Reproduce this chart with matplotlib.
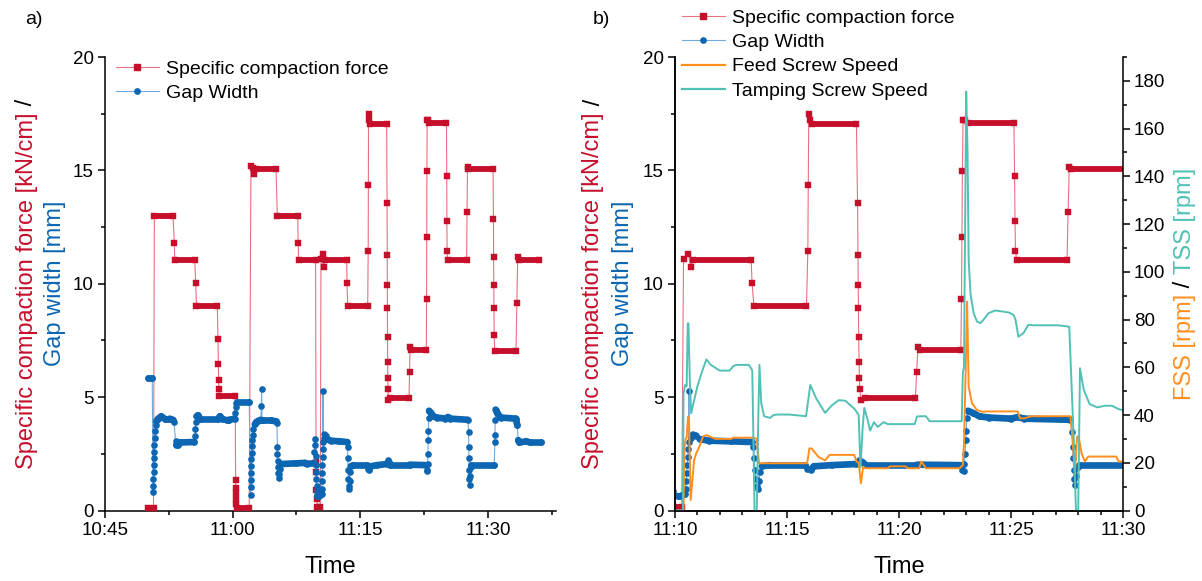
import numpy as np
import matplotlib
matplotlib.use("Agg")
import matplotlib.pyplot as plt
from matplotlib.lines import Line2D
from matplotlib.ticker import MultipleLocator

plt.rcParams['font.family'] = ['Liberation Sans', 'DejaVu Sans']

RED = '#c50f2b'
RED_THIN = '#e8707f'
BLUE = '#0d66b2'
BLUE_THIN = '#72a9dd'
ORANGE = '#ff8f1f'
TEAL = '#52c1b5'

W, H = 1202, 581
SQ = 4.2    # square marker (pt)
DOT = 4.8   # circle marker (pt)

# time in minutes after 10:00
force_t = [50.1, 50.7,
           50.8, 53.0,
           53.14,
           53.2, 55.55,
           55.65,
           55.75, 58.2,
           58.28, 58.32, 58.36, 58.4,
           58.45, 60.3,
           60.35, 60.37, 60.39, 60.41, 60.43,
           60.5, 61.95,
           62.15, 62.35, 62.55, 62.7, 65.1,
           65.25, 67.65,
           67.7,
           67.75, 69.75,
           69.8, 69.82, 69.85, 69.88,
           69.95, 70.3,
           70.38, 70.6, 70.7, 70.8, 73.4,
           73.44,
           73.52, 75.87,
           75.93, 75.95, 75.97, 76.02, 76.1, 78.1,
           78.15, 78.17, 78.18, 78.19, 78.2, 78.22, 78.23, 78.25,
           78.3, 78.5, 80.73,
           80.79,
           80.85, 80.95, 82.76,
           82.79, 82.81, 82.83, 82.86, 82.96, 83.1, 85.13,
           85.16, 85.18, 85.2,
           85.25, 87.5,
           87.55, 87.6, 87.7, 90.6,
           90.65, 90.67, 90.69, 90.71, 90.73,
           90.8, 93.3,
           93.4, 93.5, 93.65, 96.0]
force_v = [0.12, 0.12,
           13.0, 13.0,
           11.8,
           11.05, 11.05,
           10.05,
           9.04, 9.04,
           7.55, 6.45, 5.75, 5.35,
           5.05, 5.05,
           1.35, 1.0, 0.75, 0.5, 0.3,
           0.12, 0.12,
           15.2, 15.1, 14.85, 15.05, 15.05,
           13.0, 13.0,
           11.8,
           11.05, 11.05,
           2.15, 1.7, 0.9, 0.5,
           0.15, 0.15,
           11.1, 11.3, 10.75, 11.05, 11.05,
           10.05,
           9.04, 9.04,
           11.46, 14.37, 17.49, 17.2, 17.05, 17.05,
           13.56, 11.25, 9.96, 8.93, 7.65, 6.54, 5.84, 5.35,
           4.88, 4.98, 4.98,
           6.13,
           7.2, 7.06, 7.06,
           9.34, 12.06, 14.96, 17.24, 17.2, 17.09, 17.09,
           14.77, 12.75, 11.46,
           11.06, 11.06,
           13.18, 15.17, 15.06, 15.06,
           12.87, 11.16, 9.96, 8.94, 7.75,
           7.04, 7.04,
           9.15, 11.2, 11.05, 11.05]

gap_t = [50.1, 50.55,
         50.65, 50.67, 50.69, 50.71, 50.73, 50.75, 50.78, 50.81, 50.85, 50.9, 50.97, 51.05,
         51.25, 51.6, 52.0, 52.6, 53.0, 53.1,
         53.3, 53.4, 53.6, 53.8, 55.5,
         55.6, 55.62, 55.65, 55.75, 55.9, 56.2, 58.3, 58.5, 58.7, 59.4, 59.6, 60.25,
         60.3, 60.35, 60.45, 60.55, 61.95,
         62.1, 62.12, 62.14, 62.16, 62.18, 62.2, 62.23, 62.26, 62.3, 62.35, 62.45, 62.6, 62.8, 63.0, 63.3,
         63.38, 63.4, 63.45,
         63.6, 64.5, 65.1, 65.2,
         65.25, 65.27, 65.3, 65.33, 65.37, 65.42, 65.5, 65.55, 65.65, 67.5, 68.5, 68.7, 69.55,
         69.6, 69.65, 69.7, 69.75, 69.78, 69.8, 69.83, 69.86, 69.9, 69.95, 70.2, 70.45,
         70.48, 70.5, 70.52, 70.55, 70.57, 70.6, 70.62, 70.64, 70.7, 70.8, 70.95, 71.1, 71.5, 72.5, 73.45,
         73.5, 73.53, 73.56, 73.6, 73.65, 73.7, 73.75, 73.8, 73.88, 74.2, 75.8, 75.9, 76.05, 76.2,
         77.0, 78.1, 78.2, 78.35, 78.5, 80.8, 82.75,
         82.8, 82.88, 82.92, 82.95, 82.98, 83.0, 83.03, 83.08, 83.3, 83.6, 84.0, 85.0, 85.3, 85.6, 87.65,
         87.72, 87.75, 87.77, 87.8, 87.83, 87.86, 87.92, 87.97, 88.05, 90.75,
         90.8, 90.83, 90.86, 90.9, 91.1, 91.5, 93.3,
         93.45, 93.55, 93.7, 94.5, 95.0, 96.2]
gap_v = [5.84, 5.84,
         0.83, 1.1, 1.4, 1.7, 2.0, 2.3, 2.6, 2.9, 3.2, 3.5, 3.75, 3.95,
         4.05, 4.15, 4.05, 4.05, 4.0, 3.9,
         3.05, 2.9, 2.88, 3.0, 3.02,
         3.3, 3.6, 3.9, 4.15, 4.2, 4.05, 4.05, 4.15, 4.05, 3.97, 4.0, 4.05,
         4.3, 4.55, 4.75, 4.78, 4.78,
         0.68, 1.05, 1.35, 1.65, 1.95, 2.25, 2.55, 2.85, 3.1, 3.35, 3.6, 3.8, 3.9, 3.95, 4.0,
         4.6, 5.35, 4.0,
         3.97, 3.97, 3.93, 3.85,
         2.8, 2.5, 2.2, 1.9, 1.65, 1.45, 1.6, 1.85, 2.05, 2.08, 2.1, 2.06, 2.08,
         2.6, 3.15, 2.9, 2.4, 2.0, 1.7, 1.4, 1.1, 0.85, 0.65, 0.62, 0.72,
         0.95, 1.3, 1.65, 2.0, 2.35, 2.7, 5.28, 3.0, 3.2, 3.35, 3.3, 3.15, 3.08, 3.05, 3.02,
         2.8, 2.3, 1.8, 1.4, 1.1, 0.95, 1.3, 1.7, 1.95, 2.0, 2.0, 1.82, 1.8, 1.95,
         2.0, 2.05, 2.22, 2.15, 2.02, 2.02, 2.0,
         1.8, 1.75, 2.05, 2.5, 3.1, 3.5, 4.1, 4.4, 4.3, 4.15, 4.1, 4.05, 4.12, 4.05, 4.0,
         3.48, 2.8, 2.3, 1.8, 1.4, 1.13, 1.5, 1.9, 2.0, 2.0,
         3.0, 3.35, 4.0, 4.45, 4.3, 4.1, 4.05,
         3.75, 3.1, 3.0, 3.05, 3.0, 3.0]

fss_t = [70.0, 70.38, 70.42, 70.47, 70.52, 70.58, 70.62, 70.7, 70.78, 70.85, 70.95, 71.1,
         71.25, 71.4, 71.8, 72.5, 72.6, 73.5, 73.65, 73.75, 75.9, 76.0, 76.1, 76.4, 76.7,
         76.9, 78.0, 78.1, 78.2, 78.3, 78.4, 78.5, 79.5, 79.6, 80.3, 80.4, 80.9, 81.0, 81.2,
         82.7, 82.85, 82.9, 82.98, 83.04, 83.11, 83.26, 83.48, 83.7, 84.0, 85.3, 85.4, 85.6,
         85.9, 87.65, 87.75, 87.85, 87.95, 88.02, 88.15, 88.3, 88.45, 89.7, 89.8, 90.0]
fss_v = [0, 0, 26, 30, 30.5, 39.3, 39.3, 4.4, 13, 21, 24, 27,
         31, 31.6, 30, 30, 30.5, 30.5, 30, 19.8, 19.8, 26, 26, 22.5, 21,
         23.3, 23.3, 20.5, 20, 11.4, 18.4, 17.7, 17.7, 18.5, 18.5, 17.7, 17.7, 20.5, 17.7,
         17.7, 19, 28, 60, 87.5, 51.9, 44.9, 42.1, 41.4, 41.5, 41.5, 38.6, 38.6,
         39.5, 39.5, 30, 15, 31, 31, 24, 20.5, 22.6, 22.6, 20.5, 20.5]

tss_t = [70.0, 70.35, 70.38, 70.45, 70.52, 70.57, 70.6, 70.66, 70.72, 70.8, 71.0, 71.2,
         71.4, 71.6, 72.0, 72.44, 72.6, 72.74, 73.3, 73.4, 73.45, 73.5, 73.55, 73.65,
         73.72, 73.77, 73.85, 73.98, 74.24, 74.4, 74.58, 75.1, 75.85, 76.04, 76.3, 76.7,
         77.0, 77.3, 77.6, 78.02, 78.2, 78.28, 78.38, 78.45, 78.6, 78.71, 78.88, 79.05,
         79.31, 79.5, 80.7, 80.8, 81.05, 81.2, 81.37, 82.8, 82.85, 82.9, 83.0, 83.06,
         83.11, 83.19, 83.33, 83.48, 83.63, 83.78, 84.0, 84.3, 84.89, 85.11, 85.2, 85.33,
         85.55, 85.78, 86.0, 87.1, 87.6, 87.8, 87.9, 88.0, 88.08, 88.25, 88.51, 88.85,
         89.2, 89.5, 89.8, 90.0]
tss_v = [0, 0, 49, 52.6, 52, 78.4, 78.4, 55, 40.7, 44, 52, 58,
         63.3, 61, 58.6, 58.6, 60.5, 61, 61, 59.5, 58.6, 30, 0, 0,
         40, 61, 45, 39.5, 38.8, 40, 40.2, 40.2, 39.5, 52.6, 47, 40.9,
         44, 46.2, 46, 42.5, 40, 18, 35, 43, 38, 33.5, 37, 35,
         37, 36.2, 36.2, 39.4, 39.5, 39.5, 37.4, 37.4, 57.6, 60, 175.5, 150,
         105, 91, 82.7, 79.2, 78.5, 80, 82.7, 83.8, 83, 82, 80, 72.8,
         74.3, 77.8, 77.6, 77.6, 77, 30, 0, 0, 59.6, 50.5, 44.6, 43.2,
         43.9, 43.9, 42.5, 42]

left_ticks = [45, 60, 75, 90]
left_labels = ['10:45', '11:00', '11:15', '11:30']
right_ticks = [70, 75, 80, 85, 90]
right_labels = ['11:10', '11:15', '11:20', '11:25', '11:30']


def draw_force(ax):
    t = np.array(force_t)
    v = np.array(force_v)
    ax.plot(t, v, color=RED_THIN, lw=0.8, zorder=2)
    for i in range(len(t) - 1):
        if v[i] == v[i + 1] and t[i + 1] - t[i] > 0.3:
            ax.plot(t[i:i + 2], v[i:i + 2], color=RED, lw=SQ,
                    solid_capstyle='projecting', zorder=3)
    ax.plot(t, v, ls='none', marker='s', ms=SQ, mfc=RED, mec=RED, mew=0.3, zorder=3)


def draw_gap(ax):
    t = np.array(gap_t)
    v = np.array(gap_v)
    ax.plot(t, v, color=BLUE_THIN, lw=0.8, zorder=3)
    slow = (np.diff(t) > 0.15) & (np.abs(np.diff(v)) < 0.5)
    for i in np.where(slow)[0]:
        ax.plot(t[i:i + 2], v[i:i + 2], color=BLUE, lw=DOT,
                solid_capstyle='round', zorder=3)
    ax.plot(t, v, ls='none', marker='o', ms=DOT, mfc=BLUE, mec=BLUE, mew=0, zorder=3)


def style(ax):
    ax.tick_params(which='major', direction='out', length=5, width=1.1, labelsize=13.5, pad=3)
    ax.tick_params(which='minor', direction='out', length=3, width=1.1)
    for s in ax.spines.values():
        s.set_linewidth(1.1)


def vlabel(fig, cx, cy, pieces, size):
    # multi-coloured vertical label, centred on pixel (cx, cy) counted from top-left
    r = fig.canvas.get_renderer()

    def width(s):
        a = fig.text(0, 0, s + '|', fontsize=size)
        b = fig.text(0, 0, '|', fontsize=size)
        w = a.get_window_extent(r).width - b.get_window_extent(r).width
        a.remove()
        b.remove()
        return w

    total = width(''.join(p for p, c in pieces))
    y0 = (H - cy) - total / 2
    xb = cx + 0.36 * size * 100 / 72
    done = ''
    for s, c in pieces:
        off = width(done) if done else 0
        fig.text(xb / W, (y0 + off) / H, s, color=c, fontsize=size, rotation=90,
                 rotation_mode='anchor', ha='left', va='baseline')
        done += s


fig = plt.figure(figsize=(W / 100, H / 100), dpi=100)
axl = fig.add_axes([105 / W, 70.5 / H, 451 / W, 453.5 / H])
axr = fig.add_axes([675 / W, 70.5 / H, 448 / W, 453.5 / H])
axr2 = axr.twinx()

# panel a
draw_force(axl)
draw_gap(axl)
axl.set_xlim(45, 98)
axl.set_ylim(0, 20)
axl.set_xticks(left_ticks)
axl.set_xticklabels(left_labels)
axl.xaxis.set_minor_locator(MultipleLocator(7.5))
axl.yaxis.set_major_locator(MultipleLocator(5))
axl.yaxis.set_minor_locator(MultipleLocator(2.5))
axl.spines['top'].set_visible(False)
axl.spines['right'].set_visible(False)
style(axl)

# panel b
draw_force(axr)
draw_gap(axr)
axr2.plot(fss_t, fss_v, color=ORANGE, lw=1.4)
axr2.plot(tss_t, tss_v, color=TEAL, lw=1.4)
axr.set_xlim(70, 90)
axr.set_ylim(0, 20)
axr2.set_ylim(0, 190)
axr.set_xticks(right_ticks)
axr.set_xticklabels(right_labels)
axr.xaxis.set_minor_locator(MultipleLocator(1))
axr.yaxis.set_major_locator(MultipleLocator(5))
axr.yaxis.set_minor_locator(MultipleLocator(2.5))
axr2.yaxis.set_major_locator(MultipleLocator(20))
axr2.yaxis.set_minor_locator(MultipleLocator(10))
for a in (axr, axr2):
    a.spines['top'].set_visible(False)
axr.spines['right'].set_visible(False)
style(axr)
style(axr2)

for ax in (axl, axr):
    ax.set_xlabel('Time', fontsize=17)
    ax.xaxis.set_label_coords(0.5, -(567 - 510.5) / 453.5)
    ax.xaxis.label.set_va('center')

h_force = Line2D([], [], color=RED_THIN, lw=0.8, marker='s', ms=SQ, mfc=RED, mec=RED)
h_gap = Line2D([], [], color=BLUE_THIN, lw=0.8, marker='o', ms=DOT * 0.8, mfc=BLUE, mec=BLUE)
h_fss = Line2D([], [], color=ORANGE, lw=1.6)
h_tss = Line2D([], [], color=TEAL, lw=1.6)
leg_kw = dict(loc='upper left', bbox_transform=fig.transFigure, frameon=False, fontsize=14,
              handlelength=2.2, handletextpad=0.35, borderpad=0, borderaxespad=0,
              labelspacing=0.35)
axl.legend([h_force, h_gap], ['Specific compaction force', 'Gap Width'],
           bbox_to_anchor=(116 / W, 1 - 60 / H), **leg_kw)
axr2.legend([h_force, h_gap, h_fss, h_tss],
            ['Specific compaction force', 'Gap Width', 'Feed Screw Speed', 'Tamping Screw Speed'],
            bbox_to_anchor=(682 / W, 1 - 9 / H), **leg_kw)

fig.text(25 / W, 1 - 20 / H, 'a)', fontsize=14, va='center')
fig.text(593 / W, 1 - 20 / H, 'b)', fontsize=14, va='center')

force_lbl = [('Specific compaction force [kN/cm]', RED), (' /', 'black')]
gap_lbl = [('Gap width [mm]', BLUE)]
vlabel(fig, 24, 283.75, force_lbl, 17)
vlabel(fig, 53, 283.75, gap_lbl, 17)
vlabel(fig, 591, 283.75, force_lbl, 17)
vlabel(fig, 620, 283.75, gap_lbl, 17)
vlabel(fig, 1182, 283.75, [('FSS [rpm]', ORANGE), (' / ', 'black'), ('TSS [rpm]', TEAL)], 17)

fig.savefig('out.png', dpi=100)
